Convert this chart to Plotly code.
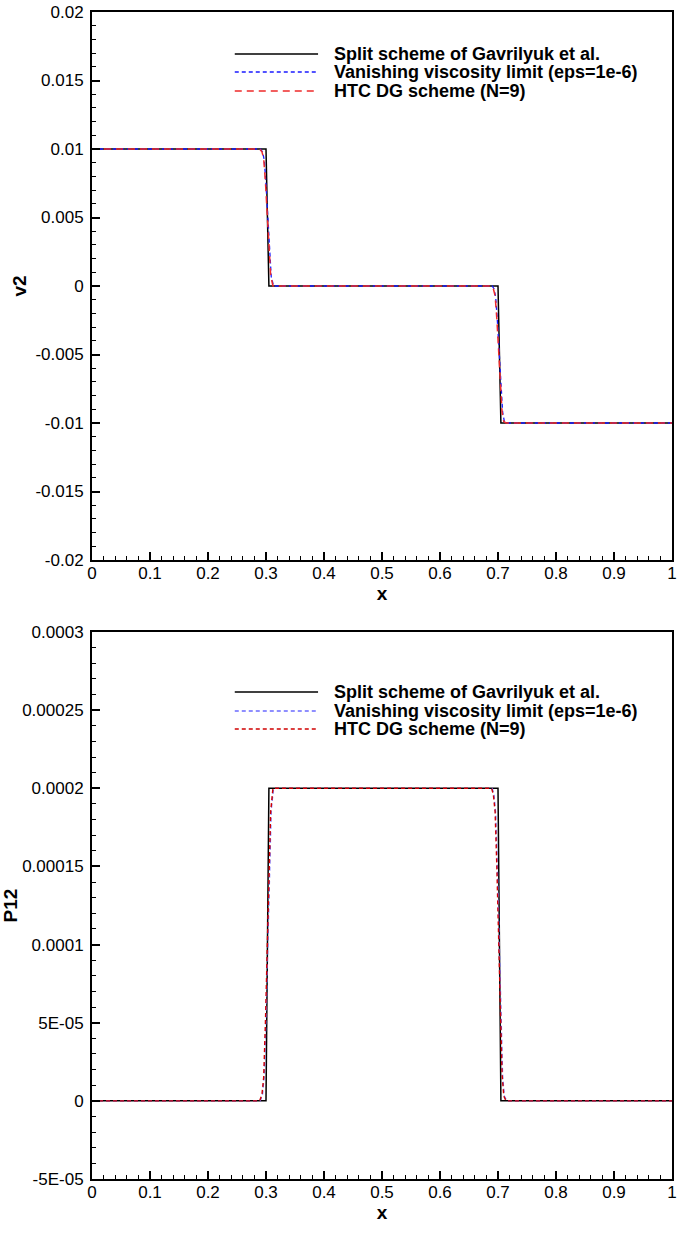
import plotly.graph_objects as go

# ---------------- data ----------------
split_x = [0.0, 0.3, 0.305, 0.7, 0.705, 1.0]
split_v2 = [0.01, 0.01, 0.0, 0.0, -0.01, -0.01]
split_p12 = [0.0, 0.0, 0.0002, 0.0002, 0.0, 0.0]

visc_x = [0.0, 0.29, 0.294, 0.297, 0.3, 0.303, 0.306, 0.309, 0.313,
          0.69, 0.693, 0.696, 0.699, 0.702, 0.705, 0.708, 0.711, 0.715, 1.0]
visc_v2 = [0.01, 0.01, 0.0098, 0.0092, 0.0074, 0.005, 0.0026, 0.0007, 0.0,
           0.0, -0.0002, -0.0008, -0.0026, -0.005, -0.0074, -0.0092, -0.0099, -0.01, -0.01]
visc_p12 = [0.0, 0.0, 0.000004, 0.000016, 0.000052, 0.0001, 0.000148, 0.000186, 0.0002,
            0.0002, 0.000196, 0.000184, 0.000148, 0.0001, 0.000052, 0.000016, 0.000003, 0.0, 0.0]

dg_x = [0.0, 0.289, 0.293, 0.296, 0.299, 0.302, 0.305, 0.308, 0.312,
        0.689, 0.692, 0.695, 0.698, 0.701, 0.704, 0.707, 0.71, 0.714, 1.0]
dg_v2 = [0.01, 0.01, 0.0098, 0.0093, 0.0076, 0.0052, 0.0027, 0.0008, 0.0,
         0.0, -0.0002, -0.0007, -0.0024, -0.0049, -0.0073, -0.0092, -0.0099, -0.01, -0.01]
dg_p12 = [0.0, 0.0, 0.000004, 0.000015, 0.00005, 0.000098, 0.000146, 0.000185, 0.0002,
          0.0002, 0.000196, 0.000185, 0.00015, 0.000102, 0.000054, 0.000017, 0.000003, 0.0, 0.0]

legend_labels = ["Split scheme of Gavrilyuk et al.",
                 "Vanishing viscosity limit (eps=1e-6)",
                 "HTC DG scheme (N=9)"]

x_ticks = [0, 0.1, 0.2, 0.3, 0.4, 0.5, 0.6, 0.7, 0.8, 0.9, 1.0]
x_ticktext = ["0", "0.1", "0.2", "0.3", "0.4", "0.5", "0.6", "0.7", "0.8", "0.9", "1"]
v2_ticks = [0.02, 0.015, 0.01, 0.005, 0.0, -0.005, -0.01, -0.015, -0.02]
v2_ticktext = ["0.02", "0.015", "0.01", "0.005", "0", "-0.005", "-0.01", "-0.015", "-0.02"]
p12_ticks = [0.0003, 0.00025, 0.0002, 0.00015, 0.0001, 0.00005, 0.0, -0.00005]
p12_ticktext = ["0.0003", "0.00025", "0.0002", "0.00015", "0.0001", "5E-05", "0", "-5E-05"]

# ---------------- styles ----------------
W, H = 680, 1241
ML, MR, MT, MB = 92, 3, 12, 62
PW, PH = W - ML - MR, H - MT - MB

def py(p):  # pixel y -> paper y
    return 1 - (p - MT) / PH

def px(p):  # pixel x -> paper x
    return (p - ML) / PW

top_dom = [py(560), 1.0]
bot_dom = [0.0, py(632)]

styles_top = [dict(color="black", width=1.5),
              dict(color="#1a1aff", width=1.3, dash="4px,3px"),
              dict(color="#ee2a2a", width=1.5, dash="7px,5px")]
styles_bot = [dict(color="black", width=1.5),
              dict(color="#6a6aff", width=1.3, dash="4px,3px"),
              dict(color="#d00000", width=1.4, dash="4px,3px")]

fig = go.Figure()
for xs, ys, st in [(split_x, split_v2, styles_top[0]),
                   (visc_x, visc_v2, styles_top[1]),
                   (dg_x, dg_v2, styles_top[2])]:
    fig.add_trace(go.Scatter(x=xs, y=ys, mode="lines", line=st,
                             xaxis="x", yaxis="y", showlegend=False))
for xs, ys, st in [(split_x, split_p12, styles_bot[0]),
                   (visc_x, visc_p12, styles_bot[1]),
                   (dg_x, dg_p12, styles_bot[2])]:
    fig.add_trace(go.Scatter(x=xs, y=ys, mode="lines", line=st,
                             xaxis="x2", yaxis="y2", showlegend=False))

FAM = "Liberation Sans, Arial, Helvetica, sans-serif"
font_reg = dict(family=FAM, size=17, color="black")
font_bold = dict(family=FAM, size=19, color="black")

def xaxis(anchor):
    return dict(range=[0, 1], anchor=anchor, tickvals=x_ticks, ticktext=x_ticktext,
                ticks="inside", ticklen=8, tickwidth=1.5, tickcolor="black",
                minor=dict(dtick=0.02, tick0=0, ticks="inside", ticklen=4,
                           tickwidth=1, tickcolor="black", showgrid=False),
                showline=True, linecolor="black", linewidth=2, mirror=True,
                showgrid=False, zeroline=False, tickfont=font_reg,
                ticklabelstandoff=-3,
                title=dict(text="<b>x</b>", font=font_bold, standoff=2))

def yaxis(dom, rng, tv, tt, minor_dt, title, anchor):
    return dict(domain=dom, range=rng, anchor=anchor, tickvals=tv, ticktext=tt,
                ticks="inside", ticklen=8, tickwidth=1.5, tickcolor="black",
                minor=dict(dtick=minor_dt, tick0=0, ticks="inside", ticklen=4,
                           tickwidth=1, tickcolor="black", showgrid=False),
                showline=True, linecolor="black", linewidth=2, mirror=True,
                showgrid=False, zeroline=False, tickfont=font_reg,
                ticklabelstandoff=3,
                title=dict(text="<b>%s</b>" % title, font=font_bold, standoff=4))

fig.update_layout(
    width=W, height=H, margin=dict(l=ML, r=MR, t=MT, b=MB),
    paper_bgcolor="white", plot_bgcolor="white", showlegend=False,
    xaxis=xaxis("y"),
    yaxis=yaxis(top_dom, [-0.02, 0.02], v2_ticks, v2_ticktext, 0.001, "v2", "x"),
    xaxis2=xaxis("y2"),
    yaxis2=yaxis(bot_dom, [-0.00005, 0.0003], p12_ticks, p12_ticktext, 0.00001, "P12", "x2"),
)

# manual legends (long line samples as in the reference)
shapes = []
annotations = []
for rows, styles in [([54, 72, 91], styles_top), ([692, 711, 729], styles_bot)]:
    for ry, st, lab in zip(rows, styles, legend_labels):
        shapes.append(dict(type="line", xref="paper", yref="paper",
                           x0=px(236), x1=px(320), y0=py(ry), y1=py(ry),
                           line=st))
        annotations.append(dict(xref="paper", yref="paper", x=px(334), y=py(ry),
                                xanchor="left", yanchor="middle", showarrow=False,
                                text="<b>%s</b>" % lab,
                                font=dict(family=FAM, size=18, color="black")))
fig.update_layout(shapes=shapes, annotations=annotations)

fig.write_html("out.html")
